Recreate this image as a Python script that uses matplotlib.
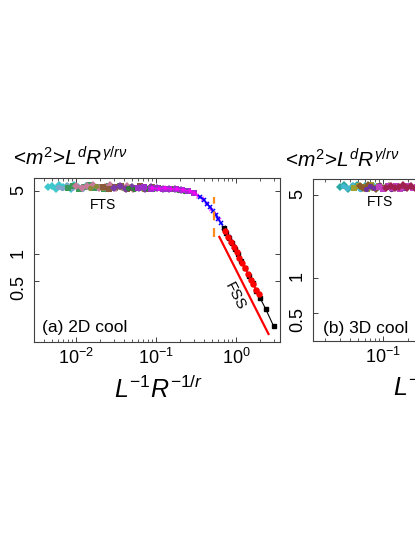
import matplotlib
matplotlib.use("Agg")
import matplotlib.pyplot as plt
from matplotlib.ticker import FixedLocator, NullLocator, NullFormatter, FixedFormatter, LogLocator

plt.rcParams['font.family'] = ['Liberation Sans', 'DejaVu Sans']
plt.rcParams['mathtext.fontset'] = 'custom'
plt.rcParams['mathtext.rm'] = 'Liberation Sans'
plt.rcParams['mathtext.it'] = 'Liberation Sans:italic'
plt.rcParams['mathtext.bf'] = 'Liberation Sans:bold'

# ---- panel (a) 2D cool : plateau series (FTS regime) ----
a_cyan_x = [0.0045, 0.0050, 0.0056, 0.0062, 0.0069, 0.0077, 0.0086, 0.0096, 0.0107, 0.0120, 0.0134, 0.0150]
a_cyan_y = [5.50, 5.75, 5.35, 5.80, 5.55, 5.70, 5.30, 5.78, 5.50, 5.38, 5.72, 5.52]
a_steel_x = [0.0060, 0.0068, 0.0078, 0.0090, 0.0103, 0.0118, 0.0135, 0.0155, 0.0178, 0.0204, 0.0234, 0.0268]
a_steel_y = [5.62, 5.36, 5.78, 5.46, 5.70, 5.32, 5.58, 5.84, 5.42, 5.62, 5.34, 5.70]
a_green_x = [0.0080, 0.0093, 0.0108, 0.0125, 0.0145, 0.0168, 0.0195, 0.0226, 0.0262, 0.0304, 0.0352, 0.0408]
a_green_y = [5.42, 5.72, 5.32, 5.58, 5.80, 5.40, 5.55, 5.34, 5.76, 5.46, 5.66, 5.36]
a_rose_x = [0.0100, 0.0118, 0.0139, 0.0164, 0.0193, 0.0228, 0.0269, 0.0317, 0.0374, 0.0441, 0.0520, 0.0613]
a_rose_y = [5.74, 5.42, 5.64, 5.84, 5.36, 5.58, 5.78, 5.38, 5.55, 5.72, 5.34, 5.52]
a_olive_x = [0.0150, 0.0178, 0.0211, 0.0250, 0.0296, 0.0351, 0.0416, 0.0493, 0.0584, 0.0692, 0.0820, 0.0972]
a_olive_y = [5.38, 5.68, 5.44, 5.30, 5.76, 5.52, 5.34, 5.70, 5.44, 5.30, 5.60, 5.40]
a_brown_x = [0.0220, 0.0262, 0.0312, 0.0371, 0.0441, 0.0525, 0.0624, 0.0742, 0.0883, 0.105, 0.125, 0.149]
a_brown_y = [5.60, 5.34, 5.52, 5.74, 5.32, 5.48, 5.66, 5.30, 5.50, 5.38, 5.33, 5.28]
a_purple_x = [0.0300, 0.0358, 0.0427, 0.0509, 0.0607, 0.0724, 0.0863, 0.103, 0.123, 0.146, 0.174, 0.208]
a_purple_y = [5.46, 5.70, 5.32, 5.58, 5.42, 5.30, 5.54, 5.38, 5.34, 5.30, 5.26, 5.18]
a_dkgreen_x = [0.045, 0.054, 0.064, 0.077, 0.092, 0.110, 0.131, 0.157, 0.187, 0.224]
a_dkgreen_y = [5.48, 5.32, 5.56, 5.38, 5.30, 5.46, 5.32, 5.28, 5.20, 5.08]
a_violet_x = [0.060, 0.072, 0.086, 0.103, 0.123, 0.147, 0.176, 0.210, 0.251, 0.300]
a_violet_y = [5.40, 5.60, 5.34, 5.48, 5.32, 5.34, 5.24, 5.16, 5.00, 4.76]
a_magenta_x = [0.090, 0.108, 0.129, 0.154, 0.184, 0.220, 0.263, 0.300, 0.340, 0.385, 0.435, 0.490, 0.550, 0.610]
a_magenta_y = [5.40, 5.30, 5.44, 5.28, 5.26, 5.16, 5.00, 4.80, 4.45, 4.08, 3.62, 3.20, 2.78, 2.42]
# ---- panel (a) crossover / FSS regime ----
a_blue_x = [0.36, 0.40, 0.44, 0.48, 0.52, 0.56, 0.60, 0.65, 0.70, 0.75, 0.81, 0.87, 0.94]
a_blue_y = [4.35, 4.00, 3.63, 3.30, 3.00, 2.72, 2.47, 2.20, 1.95, 1.74, 1.53, 1.36, 1.20]
a_red_x = [0.74, 0.80, 0.87, 0.94, 1.02, 1.10, 1.19, 1.29, 1.40, 1.52, 1.64, 1.78, 1.92]
a_red_y = [1.78, 1.56, 1.35, 1.19, 1.04, 0.91, 0.80, 0.70, 0.60, 0.52, 0.46, 0.40, 0.355]
a_black_x = [0.70, 0.76, 0.82, 0.89, 0.96, 1.05, 1.16, 1.30, 1.46, 1.62, 1.80, 2.00, 2.35, 2.95]
a_black_y = [1.94, 1.70, 1.49, 1.31, 1.15, 0.99, 0.84, 0.70, 0.57, 0.48, 0.39, 0.325, 0.245, 0.158]
fss_x = [0.62, 2.55]
fss_y = [1.55, 0.129]
cross_x = [0.535, 0.535]
cross_y = [1.55, 4.3]

# ---- panel (b) 3D cool : plateau series ----
b_teal_x = [0.030, 0.034, 0.038, 0.043, 0.048, 0.054, 0.061, 0.068, 0.076]
b_teal_y = [5.85, 6.10, 5.72, 5.98, 6.15, 5.78, 6.00, 5.84, 6.06]
b_cyan_x = [0.033, 0.037, 0.042, 0.047, 0.053, 0.060, 0.067, 0.075, 0.084]
b_cyan_y = [6.02, 5.78, 6.12, 5.88, 5.70, 6.06, 5.86, 6.14, 5.76]
b_olive_x = [0.045, 0.051, 0.057, 0.064, 0.072, 0.081, 0.091, 0.102, 0.115]
b_olive_y = [5.78, 6.06, 5.88, 5.68, 6.10, 5.84, 6.00, 5.74, 5.94]
b_brown_x = [0.052, 0.058, 0.066, 0.074, 0.083, 0.093, 0.105, 0.118, 0.132, 0.148]
b_brown_y = [5.96, 5.74, 6.08, 5.86, 5.70, 6.02, 5.80, 6.04, 5.76, 5.92]
b_purple_x = [0.062, 0.070, 0.079, 0.089, 0.100, 0.112, 0.126, 0.142, 0.160, 0.180]
b_purple_y = [5.70, 6.00, 5.82, 6.08, 5.76, 5.94, 5.68, 6.02, 5.84, 5.74]
b_magenta_x = [0.090, 0.101, 0.114, 0.128, 0.144, 0.162, 0.182, 0.205, 0.230, 0.259, 0.290]
b_magenta_y = [5.94, 5.72, 6.06, 5.84, 5.98, 5.70, 5.88, 6.04, 5.78, 5.92, 5.76]
b_dkred_x = [0.110, 0.124, 0.139, 0.157, 0.176, 0.198, 0.223, 0.251, 0.282]
b_dkred_y = [5.82, 6.04, 5.74, 5.92, 6.08, 5.78, 5.96, 5.72, 5.90]

y_ticks = [0.5, 1, 5]
y_labels = ['0.5', '1', '5']

fig = plt.figure(figsize=(4.15, 5.37), dpi=100)
ax_a = fig.add_axes([0.0819, 0.3631, 0.5928, 0.3054])
ax_b = fig.add_axes([0.7542, 0.3650, 0.5928, 0.3017])

def style(ax, xlim, ylim):
    ax.set_xscale('log')
    ax.set_yscale('log')
    ax.set_xlim(*xlim)
    ax.set_ylim(*ylim)
    ax.yaxis.set_major_locator(FixedLocator(y_ticks))
    ax.yaxis.set_major_formatter(FixedFormatter(y_labels))
    ax.yaxis.set_minor_locator(NullLocator())
    ax.xaxis.set_major_locator(LogLocator(base=10))
    ax.xaxis.set_minor_locator(LogLocator(base=10, subs=range(2, 10)))
    ax.xaxis.set_minor_formatter(NullFormatter())
    ax.tick_params(which='both', direction='in', top=True, right=True,
                   color='#404040', labelsize=13)
    ax.tick_params(which='major', length=3.5, width=0.7)
    ax.tick_params(which='minor', length=2, width=0.6)
    ax.tick_params(axis='y', labelrotation=90, pad=5)
    ax.tick_params(axis='x', pad=4)
    for s in ax.spines.values():
        s.set_color('#404040')
        s.set_linewidth(0.8)

style(ax_a, (0.003, 3.55), (0.105, 7.0))
style(ax_b, (0.0141, 14.0), (0.29, 6.9))

ms = dict(markersize=3.8, linewidth=0.7)
plateau_a = [
    (a_cyan_x, a_cyan_y, '#3cc8cc', 'D'),
    (a_steel_x, a_steel_y, '#7fa6c8', 'o'),
    (a_green_x, a_green_y, '#3a9a5a', 's'),
    (a_rose_x, a_rose_y, '#c87a9a', 'D'),
    (a_olive_x, a_olive_y, '#8c8a3c', 'o'),
    (a_brown_x, a_brown_y, '#8b5a3a', 's'),
    (a_purple_x, a_purple_y, '#7a3aa8', 'D'),
    (a_dkgreen_x, a_dkgreen_y, '#2e7d32', 'o'),
    (a_violet_x, a_violet_y, '#9a30c8', 's'),
]
for x, y, c, m in plateau_a:
    ax_a.plot(x, y, color=c, marker=m, markeredgewidth=0, **ms)
ax_a.plot(a_magenta_x, a_magenta_y, color='#ff00ff', marker='*', markersize=5, linewidth=0.7, markeredgewidth=0)
ax_a.plot(a_blue_x, a_blue_y, color='#0000ff', marker='x', markersize=3.5, linewidth=0.7, markeredgewidth=1.1)
ax_a.plot(a_black_x, a_black_y, color='black', marker='s', markersize=3.4, linewidth=0.8)
ax_a.plot(a_red_x, a_red_y, color='#ff0000', marker='o', markersize=3.6, linewidth=0.7)
ax_a.plot(fss_x, fss_y, color='#ff0000', linewidth=1.6)
ax_a.plot(cross_x, cross_y, color='#ff8c1a', linewidth=1.6, linestyle=(0, (4, 3.5)))

plateau_b = [
    (b_teal_x, b_teal_y, '#2aa8a4', 'D'),
    (b_cyan_x, b_cyan_y, '#45b8d0', 'o'),
    (b_olive_x, b_olive_y, '#a0a030', 's'),
    (b_brown_x, b_brown_y, '#8b5a2b', 'D'),
    (b_purple_x, b_purple_y, '#7030a0', 'o'),
    (b_magenta_x, b_magenta_y, '#c040c0', 's'),
    (b_dkred_x, b_dkred_y, '#a02050', 'D'),
]
for x, y, c, m in plateau_b:
    ax_b.plot(x, y, color=c, marker=m, markeredgewidth=0, **ms)

ylab = r'<$m^2$>$L^dR^{\gamma/r\nu}$'
xlab = r'$L^{-1}R^{-1/r}$'
ax_a.text(-0.087, 1.12, ylab, transform=ax_a.transAxes, fontsize=15, va='center', ha='left')
ax_b.text(-0.114, 1.12, ylab, transform=ax_b.transAxes, fontsize=15, va='center', ha='left')
for ax in (ax_a, ax_b):
    ax.set_xlabel(xlab, fontsize=18)
    ax.xaxis.set_label_coords(0.505, -0.205)

ax_a.text(0.28, 0.835, 'FTS', transform=ax_a.transAxes, fontsize=10, ha='center', va='center')
ax_a.text(0.817, 0.28, 'FSS', transform=ax_a.transAxes, fontsize=11, ha='center', va='center', rotation=-63)
ax_a.text(0.033, 0.09, '(a) 2D cool', transform=ax_a.transAxes, fontsize=12.5, ha='left', va='center')
ax_b.text(0.272, 0.858, 'FTS', transform=ax_b.transAxes, fontsize=10, ha='center', va='center')
ax_b.text(0.04, 0.08, '(b) 3D cool', transform=ax_b.transAxes, fontsize=12.5, ha='left', va='center')

fig.savefig('out.png', dpi=100)
